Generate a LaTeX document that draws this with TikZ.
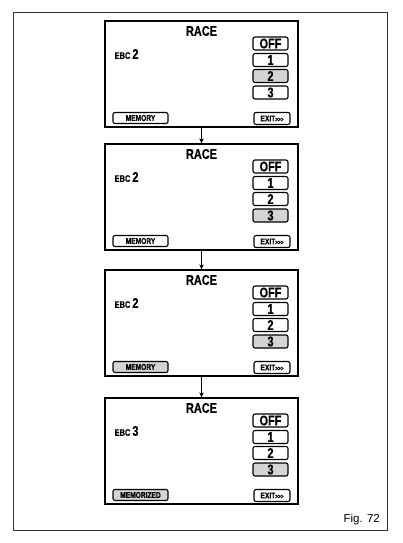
\documentclass[tikz,border=0pt]{standalone}
\usepackage{fontspec}
\newfontfamily\dispfont[FakeStretch=0.78, FakeBold=0.6]{Liberation Sans Bold}
\newfontfamily\capfont{Liberation Sans}
\usetikzlibrary{arrows.meta}
\definecolor{selgray}{gray}{0.83}

\begin{document}
\begin{tikzpicture}[x=1pt, y=-1pt,
    screen/.style={draw, line width=1.3pt, minimum width=193pt, minimum height=106pt, inner sep=0pt},
    btn/.style={draw, rounded corners=2pt, line width=1.1pt, minimum width=35pt, minimum height=13pt,
      inner sep=0pt, font=\dispfont\fontsize{14}{12}\selectfont},
    sel/.style={btn, fill=selgray},
    memo/.style={draw, rounded corners=2pt, line width=1.1pt, minimum width=55pt, minimum height=11pt,
      inner sep=0pt, font=\dispfont\fontsize{8.5}{7}\selectfont},
    exitbtn/.style={draw, rounded corners=2pt, line width=1.1pt, minimum width=36pt, minimum height=12pt,
      inner sep=0pt, font=\dispfont\fontsize{8.5}{7}\selectfont},
    title/.style={font=\dispfont\fontsize{14}{12}\selectfont, inner sep=0pt},
    ebc/.style={anchor=west, inner sep=0pt, font=\dispfont\fontsize{9.5}{8}\selectfont}]
  \useasboundingbox (0,0) rectangle (402,543);

  % outer frame
  \draw[black!80, line width=1pt] (13,13) rectangle (387,530);
  \node (fig) [anchor=south east, inner sep=0pt, font=\capfont\fontsize{11.5}{11}\selectfont] at (380,525) {Fig. 72};

  % First screen
  \begin{scope}[shift={(201.5,74)}]
    \node (S1) [screen] at (0,0) {};
    \node (R1) [title] at (0,-43) {RACE};
    \node (E1) [ebc] at (-87,-20) {EBC {\fontsize{14}{13}\selectfont 2}};
    \node (O1) [btn] at (69,-30.5) {OFF};
    \node (A1) [btn] at (69,-14) {1};
    \node (B1) [sel] at (69,2) {2};
    \node (C1) [btn] at (69,18.5) {3};
    \node (M1) [memo] at (-61,44) {MEMORY};
    \node (X1) [exitbtn] at (70.5,44.5) {EXIT{\fontsize{6}{5}\selectfont>>>}};
  \end{scope}

  % Second screen
  \begin{scope}[shift={(201.5,197)}]
    \node (S2) [screen] at (0,0) {};
    \node (R2) [title] at (0,-43) {RACE};
    \node (E2) [ebc] at (-87,-20) {EBC {\fontsize{14}{13}\selectfont 2}};
    \node (O2) [btn] at (69,-30.5) {OFF};
    \node (A2) [btn] at (69,-14) {1};
    \node (B2) [btn] at (69,2) {2};
    \node (C2) [sel] at (69,18.5) {3};
    \node (M2) [memo] at (-61,44) {MEMORY};
    \node (X2) [exitbtn] at (70.5,44.5) {EXIT{\fontsize{6}{5}\selectfont>>>}};
  \end{scope}

  % Third screen
  \begin{scope}[shift={(201.5,323)}]
    \node (S3) [screen] at (0,0) {};
    \node (R3) [title] at (0,-43) {RACE};
    \node (E3) [ebc] at (-87,-20) {EBC {\fontsize{14}{13}\selectfont 2}};
    \node (O3) [btn] at (69,-30.5) {OFF};
    \node (A3) [btn] at (69,-14) {1};
    \node (B3) [btn] at (69,2) {2};
    \node (C3) [sel] at (69,18.5) {3};
    \node (M3) [memo, fill=selgray] at (-61,44) {MEMORY};
    \node (X3) [exitbtn] at (70.5,44.5) {EXIT{\fontsize{6}{5}\selectfont>>>}};
  \end{scope}

  % Fourth screen
  \begin{scope}[shift={(201.5,451)}]
    \node (S4) [screen] at (0,0) {};
    \node (R4) [title] at (0,-43) {RACE};
    \node (E4) [ebc] at (-87,-20) {EBC {\fontsize{14}{13}\selectfont 3}};
    \node (O4) [btn] at (69,-30.5) {OFF};
    \node (A4) [btn] at (69,-14) {1};
    \node (B4) [btn] at (69,2) {2};
    \node (C4) [sel] at (69,18.5) {3};
    \node (M4) [memo, fill=selgray] at (-61,44) {MEMORIZED};
    \node (X4) [exitbtn] at (70.5,44.5) {EXIT{\fontsize{6}{5}\selectfont>>>}};
  \end{scope}

  % arrows between screens
  \draw[line width=0.8pt, -{Stealth[length=5pt, width=4.5pt]}] (S1.south) -- (S2.north);
  \draw[line width=0.8pt, -{Stealth[length=5pt, width=4.5pt]}] (S2.south) -- (S3.north);
  \draw[line width=0.8pt, -{Stealth[length=5pt, width=4.5pt]}] (S3.south) -- (S4.north);
\end{tikzpicture}
\end{document}
